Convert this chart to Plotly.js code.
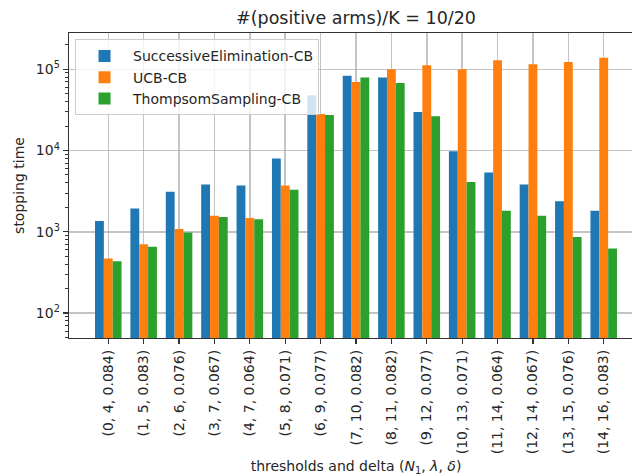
<!DOCTYPE html>
<html>
<head>
<meta charset="utf-8">
<script src="https://cdn.plot.ly/plotly-3.0.1.min.js"></script>
<style>
html, body { margin: 0; padding: 0; overflow: hidden; background: #fff; }
#chart { width: 660px; height: 476px; }
</style>
</head>
<body>
<div id="chart"></div>
<script>
var categories = ["(0, 4, 0.084)", "(1, 5, 0.083)", "(2, 6, 0.076)", "(3, 7, 0.067)", "(4, 7, 0.064)",
  "(5, 8, 0.071)", "(6, 9, 0.077)", "(7, 10, 0.082)", "(8, 11, 0.082)", "(9, 12, 0.077)",
  "(10, 13, 0.071)", "(11, 14, 0.064)", "(12, 14, 0.067)", "(13, 15, 0.076)", "(14, 16, 0.083)"];
var seriesNames = ["SuccessiveElimination-CB", "UCB-CB", "ThompsomSampling-CB"];
var successiveElimination = [1360, 1930, 3100, 3810, 3710, 7970, 47900, 83000, 79000, 29900, 9800, 5360, 3810, 2380, 1810];
var ucb = [470, 700, 1080, 1570, 1480, 3710, 28200, 69800, 100000, 112000, 100000, 129000, 115000, 123000, 139000];
var thompson = [434, 653, 980, 1525, 1430, 3280, 27400, 79000, 67900, 26400, 4110, 1810, 1570, 865, 624];
var colors = ["#1f77b4", "#ff7f0e", "#2ca02c"];
var yTickVals = [100, 1000, 10000, 100000];
var yTickText = ["10<sup>2</sup>", "10<sup>3</sup>", "10<sup>4</sup>", "10<sup>5</sup>"];

var font = "DejaVu Sans, sans-serif";
var yRange = [1.6925, 5.4465];

// minor tick positions for the log axis (2..9 x 10^n)
var minorTicks = [];
for (var e = 1; e <= 5; e++) {
  for (var m = 2; m <= 9; m++) {
    var v = m * Math.pow(10, e);
    var lv = Math.log10(v);
    if (lv > yRange[0] && lv < yRange[1]) minorTicks.push(v);
  }
}

var allSeries = [successiveElimination, ucb, thompson];
var traces = allSeries.map(function (vals, i) {
  return {
    type: "bar",
    name: seriesNames[i],
    x: categories,
    y: vals,
    marker: { color: colors[i], line: { width: 0 } }
  };
});

var layout = {
  width: 660,
  height: 476,
  margin: { l: 69, r: 17, t: 33, b: 138 },
  paper_bgcolor: "#fff",
  plot_bgcolor: "#fff",
  barmode: "group",
  bargap: 0.25,
  bargroupgap: 0,
  font: { family: font, size: 14, color: "#262626" },
  title: {
    text: "#(positive arms)/K = 10/20",
    font: { family: font, size: 17.5, color: "#262626" },
    x: 0.5, xref: "paper", xanchor: "center",
    y: 1 - 18 / 476, yref: "container", yanchor: "middle"
  },
  xaxis: {
    type: "category",
    range: [-1.11, 15.11],
    tickangle: -90,
    tickfont: { family: font, size: 14, color: "#262626" },
    ticks: "outside", ticklen: 5, tickwidth: 1.2, tickcolor: "#333",
    showgrid: true, gridcolor: "rgba(176,176,176,0.75)", gridwidth: 1.5,
    showline: true, linecolor: "#333", linewidth: 1.3, mirror: true,
    zeroline: false,
    layer: "above traces",
    automargin: false,
    title: {
      text: "thresholds and delta (<i>N</i><sub>1</sub>, <i>λ</i>, <i>δ</i>)",
      font: { family: font, size: 14, color: "#262626" },
      standoff: 8
    }
  },
  yaxis: {
    type: "log",
    range: yRange,
    tickmode: "array",
    tickvals: yTickVals,
    ticktext: yTickText,
    tickfont: { family: font, size: 14, color: "#262626" },
    ticks: "outside", ticklen: 5, tickwidth: 1.2, tickcolor: "#333",
    minor: {
      tickmode: "array",
      tickvals: minorTicks,
      ticks: "outside", ticklen: 3, tickwidth: 1, tickcolor: "#333",
      showgrid: false
    },
    showgrid: true, gridcolor: "rgba(176,176,176,0.75)", gridwidth: 1.5,
    showline: true, linecolor: "#333", linewidth: 1.3, mirror: true,
    zeroline: false,
    layer: "above traces",
    automargin: false,
    title: {
      text: "stopping time",
      font: { family: font, size: 14, color: "#262626" },
      standoff: 8
    }
  },
  legend: {
    x: 0.0105, y: 0.979, xanchor: "left", yanchor: "top",
    bgcolor: "rgba(255,255,255,0.8)",
    bordercolor: "#cccccc", borderwidth: 1,
    font: { family: font, size: 14, color: "#262626" },
    tracegroupgap: 0,
    itemwidth: 47
  },
  showlegend: true
};

Plotly.newPlot("chart", traces, layout, { displayModeBar: false, staticPlot: true });
</script>
</body>
</html>
